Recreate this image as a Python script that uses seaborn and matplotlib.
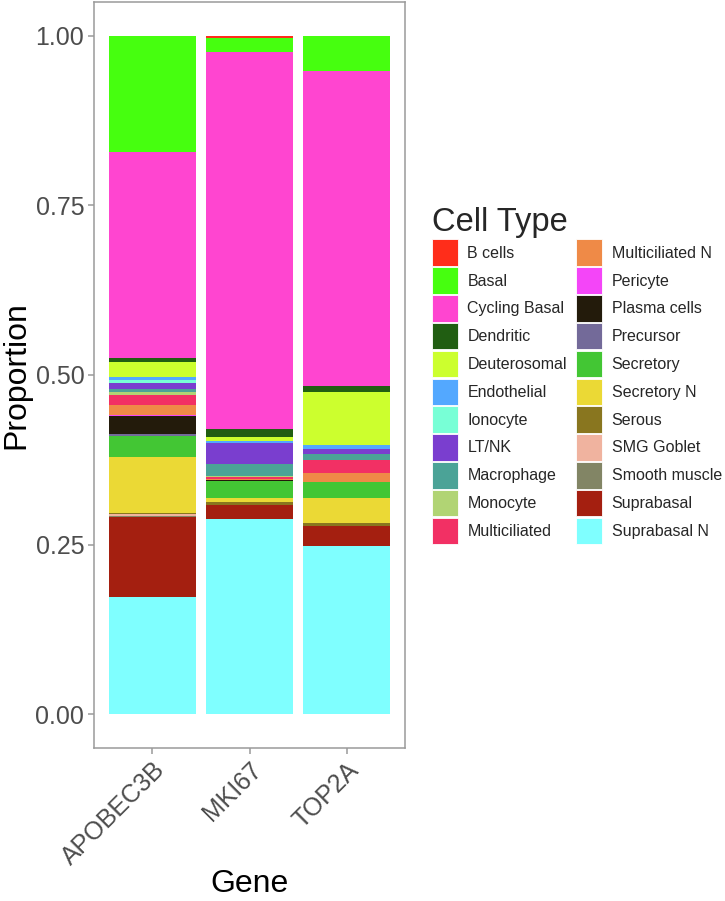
import matplotlib
matplotlib.use("Agg")
import matplotlib.pyplot as plt
from matplotlib.patches import Patch
import seaborn as sns
import pandas as pd

# ---- data ----
genes = ["APOBEC3B", "MKI67", "TOP2A"]

cell_types = [
    "B cells", "Basal", "Cycling Basal", "Dendritic", "Deuterosomal",
    "Endothelial", "Ionocyte", "LT/NK", "Macrophage", "Monocyte",
    "Multiciliated", "Multiciliated N", "Pericyte", "Plasma cells",
    "Precursor", "Secretory", "Secretory N", "Serous", "SMG Goblet",
    "Smooth muscle", "Suprabasal", "Suprabasal N",
]

cell_colors = [
    "#FF2D1A", "#46FF0F", "#FF45D0", "#215E12", "#CCFF2E",
    "#53A8FF", "#78FFD6", "#7A3ECF", "#4BA397", "#B1D474",
    "#F23064", "#EF8A47", "#F445F8", "#231B0B",
    "#736A99", "#43C634", "#EBD935", "#89761F", "#F0B39F",
    "#828565", "#A41F10", "#7FFFFF",
]

apobec3b = [0.000, 0.171, 0.303, 0.0065, 0.022,
            0.004, 0.005, 0.009, 0.0045, 0.0045,
            0.0137, 0.0147, 0.0025, 0.0255,
            0.0035, 0.031, 0.082, 0.002, 0.003,
            0.001, 0.119, 0.172]

mki67 = [0.003, 0.021, 0.556, 0.012, 0.006,
         0.002, 0.001, 0.030, 0.018, 0.001,
         0.0035, 0.0015, 0.000, 0.001,
         0.000, 0.026, 0.006, 0.003, 0.000,
         0.000, 0.021, 0.288]

top2a = [0.001, 0.0515, 0.464, 0.009, 0.078,
         0.006, 0.000, 0.0075, 0.0085, 0.000,
         0.0196, 0.013, 0.000, 0.000,
         0.000, 0.0235, 0.0368, 0.005, 0.000,
         0.000, 0.0294, 0.2475]

df = pd.DataFrame({"APOBEC3B": apobec3b, "MKI67": mki67, "TOP2A": top2a},
                  index=cell_types)
# first cell type sits on top of the stack -> top edge of each layer
tops = df.iloc[::-1].cumsum().iloc[::-1]

# ---- plot ----
sns.set_style("white")
plt.rcParams["font.family"] = ["Liberation Sans", "DejaVu Sans"]

fig = plt.figure(figsize=(7.25, 9.01), dpi=100)
ax = fig.add_axes([94 / 725, 1 - 748 / 901, 311 / 725, 746 / 901])

# draw from the top layer down, each lower layer painted over the previous
for cell, col in zip(cell_types, cell_colors):
    layer = tops.loc[cell].rename_axis("Gene").reset_index(name="top")
    sns.barplot(data=layer, x="Gene", y="top", order=genes, color=col,
                width=0.9, saturation=1, errorbar=None, linewidth=0, ax=ax)

ax.set_xlim(-0.6, 2.6)
ax.set_ylim(-0.05, 1.05)
ax.set_yticks([0, 0.25, 0.5, 0.75, 1.0])
ax.set_yticklabels(["0.00", "0.25", "0.50", "0.75", "1.00"])

for s in ax.spines.values():
    s.set_visible(True)
    s.set_color("#9A9A9A")
    s.set_linewidth(1.1)

ax.tick_params(axis="both", which="major", length=4, width=1.1,
               color="#9A9A9A", labelsize=18, labelcolor="#4D4D4D",
               direction="out", pad=3, left=True, bottom=True)
plt.setp(ax.get_xticklabels(), rotation=45, ha="right",
         rotation_mode="anchor")

ax.set_xlabel("Gene", fontsize=23, color="black")
ax.set_ylabel("Proportion", fontsize=23, color="black")
ax.xaxis.set_label_coords(0.5, -0.162)
ax.yaxis.set_label_coords(-0.2, 0.5)

handles = [Patch(facecolor=c, edgecolor="white", linewidth=0.6)
           for c in cell_colors]
fig.legend(handles, cell_types, title="Cell Type", ncol=2,
           loc="upper left", bbox_to_anchor=(421 / 725, 1 - 196 / 901),
           frameon=False, fontsize=11.5, title_fontsize=23.5,
           alignment="left", handlelength=1.6, handleheight=2.18,
           handletextpad=0.6, labelspacing=0.08, columnspacing=0.6,
           borderpad=0.2)

fig.savefig("out.png", dpi=100)
